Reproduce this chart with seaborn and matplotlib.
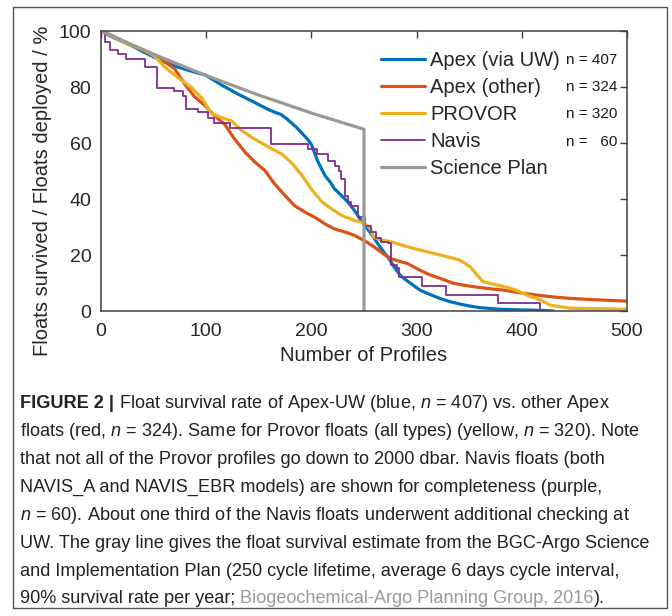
import pandas as pd
import seaborn as sns
import matplotlib.pyplot as plt
from matplotlib.patches import Rectangle

# === Survival curves, x = profiles, y = % surviving ===
apex_uw_x = [0, 10, 20, 30, 40, 51, 60, 70, 80, 90, 99, 107, 115, 122, 130, 138, 146,
             152, 159, 165, 171, 176, 181, 186, 191, 196, 200, 203, 206, 210, 213, 218,
             222, 227, 232, 237, 241, 246, 251, 256, 260, 265, 270, 275, 280, 285, 292,
             303, 312, 322, 332, 341, 350, 360, 380, 400, 420, 430]
apex_uw_y = [100, 98, 96.3, 94.6, 92.6, 90.6, 89, 87.5, 86.3, 85.2, 84.3, 82.5, 80.6,
             79.2, 77.5, 76, 74.5, 73.3, 72, 71, 70.2, 68.8, 67.2, 65.5, 63.5, 61.5,
             59.5, 56.5, 53.5, 50.5, 48.3, 46, 43.6, 41.8, 40, 37.8, 35.9, 33, 30.5, 28,
             25.8, 23, 20.5, 18, 15, 12.5, 10.5, 7.5, 6, 4.5, 3.3, 2.5, 1.8, 1.2, 0.6,
             0.4, 0.2, 0]

apex_other_x = [0, 10, 20, 30, 40, 51, 60, 70, 80, 89, 99, 108, 118, 127, 137, 146, 156,
                165, 175, 184, 194, 203, 213, 222, 232, 241, 251, 260, 268, 275, 283, 291,
                303, 312, 322, 335, 345, 354, 368, 382, 398, 414, 430, 446, 470, 490, 500]
apex_other_y = [100, 98.5, 96.5, 94.7, 93.2, 91.5, 89.2, 86.5, 80.8, 76.5, 73.3, 69.7,
                66.5, 61.4, 56.7, 53.3, 50.1, 45.4, 41.2, 37.6, 35.3, 33.5, 31.1, 29.3,
                28.2, 27, 25, 22.8, 20.5, 18.8, 17.8, 17, 14.6, 13, 11.7, 9.9, 9.2, 8.7,
                8, 7.5, 6.5, 5.7, 5, 4.5, 4, 3.7, 3.5]

provor_x = [0, 10, 20, 30, 40, 51, 61, 73, 86, 96, 105, 115, 124, 134, 146, 159, 172,
            181, 191, 200, 210, 219, 229, 241, 250, 256, 259, 265, 275, 291, 303, 316,
            329, 341, 351, 356, 363, 376, 388, 398, 406, 414, 420, 427, 437, 446, 460,
            478, 500]
provor_y = [100, 98.2, 96.3, 94.8, 93.3, 91, 87, 83.4, 79.8, 76, 70.5, 69, 67.9, 64.4,
            61.4, 58.6, 56, 53, 48.5, 43.5, 39, 36.5, 34.1, 32.3, 31.5, 29.5, 26.5, 25.5,
            24.8, 23, 21.8, 20.6, 19.4, 18.2, 15.8, 13.5, 10.5, 9.3, 8.3, 6.9, 5.5, 4.5,
            3.5, 2.1, 1.5, 1, 0.9, 0.8, 0.6]

navis_x = [0, 4, 8.5, 16.5, 24, 42, 53, 69, 78, 81, 92, 102, 107, 122.5, 162, 197, 205,
           216, 222, 226, 228.5, 231.6, 235, 238, 244, 250.6, 257, 261.7, 266, 273, 276,
           281, 283, 305, 328, 377.7, 417.5]
navis_y = [100, 95.9, 93.3, 91.7, 89.9, 87, 79.8, 78.6, 76.8, 72, 70.9, 69.1, 67.3, 65.5,
           59.8, 57.9, 56, 53.5, 51.9, 50, 47.1, 41.2, 39, 37.6, 33.5, 30.5, 28.1, 25.9,
           24.6, 24.2, 16.4, 15.2, 12.3, 8.9, 5.7, 2.7, 0]

plan_x = [0, 50, 100, 150, 200, 250, 250]
plan_y = [100, 91.7, 84.1, 77.1, 70.7, 64.9, 0]

n_labels = ["n = 407", "n = 324", "n = 320", "n =   60"]
n_label_y = [89.6, 80, 70.2, 60.4]

caption_lines = [
    None,
    "floats (red, $n$ = 324). Same for Provor floats (all types) (yellow, $n$ = 320). Note",
    "that not all of the Provor profiles go down to 2000 dbar. Navis floats (both",
    "NAVIS_A and NAVIS_EBR models) are shown for completeness (purple,",
    "$n$ = 60). About one third of the Navis floats underwent additional checking at",
    "UW. The gray line gives the float survival estimate from the BGC-Argo Science",
    "and Implementation Plan (250 cycle lifetime, average 6 days cycle interval,",
    None,
]

# === Style ===
sns.set_style("white")
cap_font = "Liberation Sans"
cap_size = 13.05
plt.rcParams["font.family"] = ["Liberation Sans", "DejaVu Sans"]
plt.rcParams["mathtext.fontset"] = "custom"
plt.rcParams["mathtext.rm"] = cap_font
plt.rcParams["mathtext.it"] = cap_font + ":italic"
plt.rcParams["mathtext.bf"] = cap_font + ":bold"

fig = plt.figure(figsize=(6.72, 6.16), dpi=100)
ax = fig.add_axes([101 / 672, 1 - 311 / 616, 526 / 672, 280 / 616])

series = [
    (apex_uw_x, apex_uw_y, "Apex (via UW)", "#0072BD", 2.3, "default"),
    (apex_other_x, apex_other_y, "Apex (other)", "#D95319", 2.3, "default"),
    (provor_x, provor_y, "PROVOR", "#EDB120", 2.3, "default"),
    (navis_x, navis_y, "Navis", "#7E2F8E", 1.3, "steps-post"),
    (plan_x, plan_y, "Science Plan", "#999999", 2.3, "default"),
]
for xs, ys, label, color, lw, ds in series:
    df = pd.DataFrame({"x": xs, "y": ys})
    sns.lineplot(data=df, x="x", y="y", ax=ax, color=color, lw=lw, label=label,
                 estimator=None, sort=False, drawstyle=ds)

ax.set_xlim(0, 500)
ax.set_ylim(0, 100)
ax.set_xticks(range(0, 501, 100))
ax.set_yticks(range(0, 101, 20))
ax.set_xlabel("Number of Profiles", fontsize=14.5, color="#262626")
ax.set_ylabel("Floats survived / Floats deployed / %", fontsize=14.5, color="#262626")
ax.xaxis.set_label_coords(0.5, -0.125)
ax.yaxis.set_label_coords(-0.093, 0.43)
ax.tick_params(direction="in", top=True, right=True, length=5, width=1,
               color="#404040", labelcolor="#262626", labelsize=14)
ax.tick_params(axis="x", pad=9)
ax.tick_params(axis="y", pad=7)
for s in ax.spines.values():
    s.set_color("#404040")
    s.set_linewidth(1.1)

ax.legend(loc="upper left", bbox_to_anchor=(0.532, 0.93), frameon=False, fontsize=14.5,
          handlelength=2.2, handletextpad=0.25, labelspacing=0.40, borderpad=0,
          borderaxespad=0)
for lab, yv in zip(n_labels, n_label_y):
    ax.text(491, yv, lab, ha="right", va="center", fontsize=11, color="#1a1a1a")

# === Caption ===
x0 = 20 / 672
line_y = [403, 431, 459, 487, 515, 543, 571, 598]
kw = dict(fontsize=cap_size, family=cap_font, color="#222222", va="baseline")


def fy(py):
    return 1 - (py + 5) / 616


head = fig.text(x0, fy(line_y[0]), "FIGURE 2 |", fontweight="bold", **kw)
ax.annotate(" Float survival rate of Apex-UW (blue, $n$ = 407) vs. other Apex",
            xy=(1, fy(line_y[0])), xycoords=(head, "figure fraction"), **kw)
for py, line in zip(line_y, caption_lines):
    if line:
        fig.text(x0, fy(py), line, **kw)
last = fig.text(x0, fy(line_y[7]), "90% survival rate per year;", **kw)
cite = ax.annotate(" Biogeochemical-Argo Planning Group, 2016",
                   xy=(1, fy(line_y[7])), xycoords=(last, "figure fraction"),
                   **{**kw, "color": "#9a9a9a"})
ax.annotate(").", xy=(1, fy(line_y[7])), xycoords=(cite, "figure fraction"), **kw)

fig.add_artist(Rectangle((13 / 672, 8 / 616), 654 / 672, 601 / 616,
                         transform=fig.transFigure, fill=False, lw=1, ec="#555555"))

plt.savefig("out.png", dpi=100)
plt.close()
